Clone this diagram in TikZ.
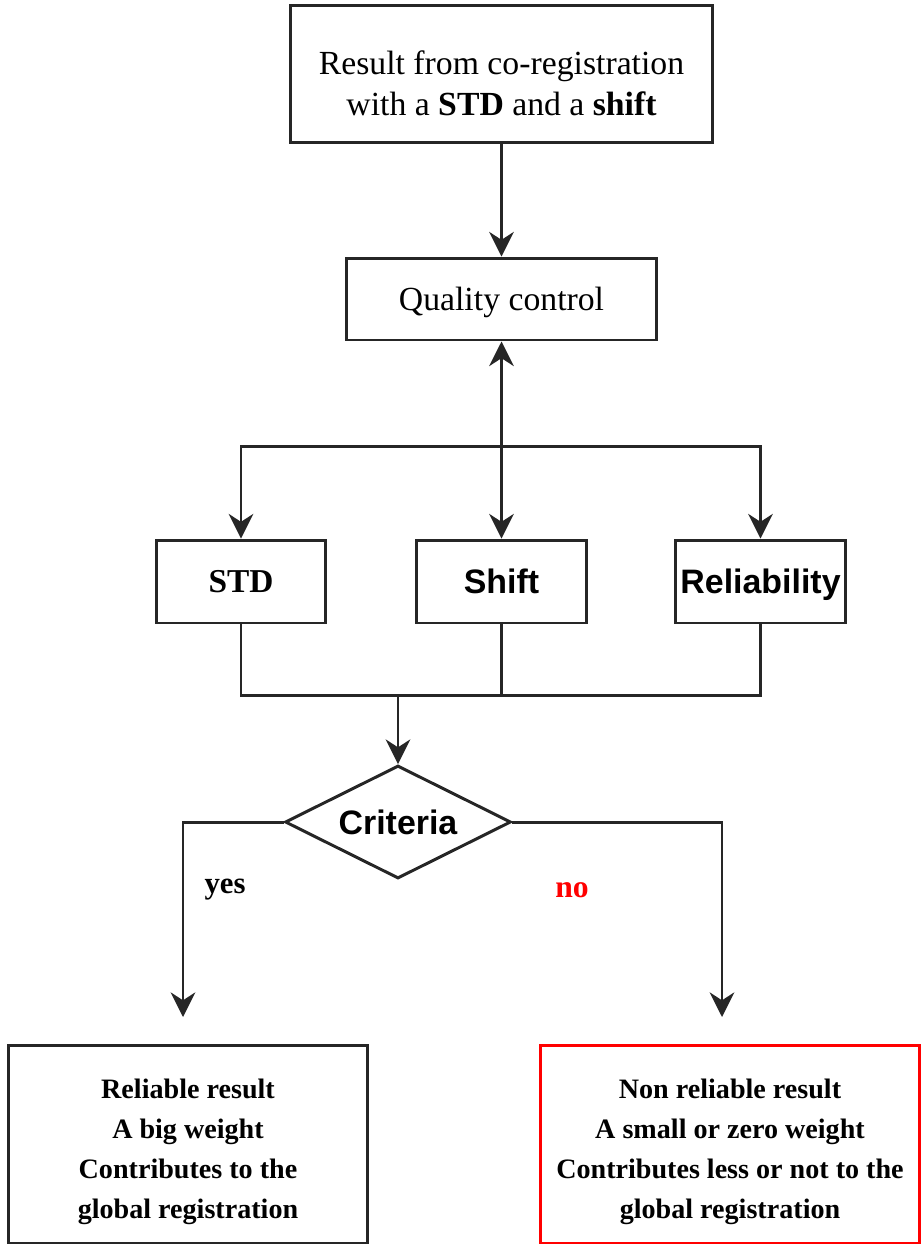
\documentclass[tikz,border=0pt]{standalone}
\usepackage{fontspec}
\setmainfont{Liberation Serif}
\newfontfamily\arialfont{Liberation Sans}
\usetikzlibrary{shapes.geometric,arrows.meta}

\tikzset{
  box/.style={draw=black!85, line width=1.7pt, align=center, inner sep=0pt},
  line/.style={draw=black!85, line width=1.7pt},
  tip/.tip={Stealth[length=14pt,width=14pt,inset=4.5pt]},
  arr/.style={line, -tip},
  serif/.style={font=\fontsize{19.2}{23}\selectfont},
  sans/.style={font=\arialfont\bfseries\fontsize{19.3}{23}\selectfont},
  result/.style={box, font=\bfseries\fontsize{16}{22.7}\selectfont}
}

\begin{document}
\begin{tikzpicture}[x=0.02cm, y=-0.02cm]
  \useasboundingbox (0,0) rectangle (922,1245);

  % top of the chain
  \node[box, serif, minimum width=8.46cm, minimum height=2.76cm] (coreg) at (501.5,74)
    {\rule{0pt}{24pt}Result from co-registration\\with a \textbf{STD} and a \textbf{shift}};
  \node[box, serif, text depth=-0.5pt, minimum width=6.22cm, minimum height=1.64cm] (qc) at (501.5,299) {Quality control};

  % the three indicators
  \node[box, serif, font=\bfseries\fontsize{19}{23}\selectfont, minimum width=3.4cm, minimum height=1.66cm] (std) at (241,581.5) {STD};
  \node[box, sans, minimum width=3.4cm, minimum height=1.66cm] (shift) at (501.5,581.5) {Shift};
  \node[box, sans, text depth=0pt, minimum width=3.4cm, minimum height=1.66cm] (rel) at (760.5,581.5) {Reliability};

  \node[draw=black!85, line width=1.7pt, shape=diamond, aspect=2, inner sep=0pt,
        minimum width=4.52cm, minimum height=2.26cm, sans] (crit) at (398,822) {Criteria};

  % outcomes
  \node[result, minimum width=7.2cm, minimum height=3.96cm] (good) at (188,1144)
    {\rule{0pt}{20pt}Reliable result\\A big weight\\Contributes to the\\global registration};
  \node[result, draw=red, minimum width=7.6cm, minimum height=3.96cm] (bad) at (730,1144)
    {\rule{0pt}{20pt}Non reliable result\\A small or zero weight\\Contributes less or not to the\\global registration};

  \coordinate (split) at (501.5,446);
  \coordinate (merge) at (398,695);
  \coordinate (yesend) at (183,1017);
  \coordinate (noend) at (722,1017);

  \draw[arr] (coreg) -- (qc);
  \draw[line, tip-tip] (qc.south) -- (shift.north);
  \draw[arr] (split) -| (std.north);
  \draw[arr] (split) -| (rel.north);

  \draw[line] (std.south) |- (merge) -| (rel.south);
  \draw[line] (shift.south) -- (shift.south |- merge);
  \draw[arr] (merge) -- (crit.north);

  \draw[arr] (crit.west) -| (yesend);
  \draw[arr] (crit.east) -| (noend);

  \node[font=\bfseries\fontsize{17.5}{20}\selectfont] (yes) at (225,890) {yes};
  \node[font=\bfseries\fontsize{18}{20}\selectfont, text=red] (no) at (572,890) {no};
\end{tikzpicture}
\end{document}
